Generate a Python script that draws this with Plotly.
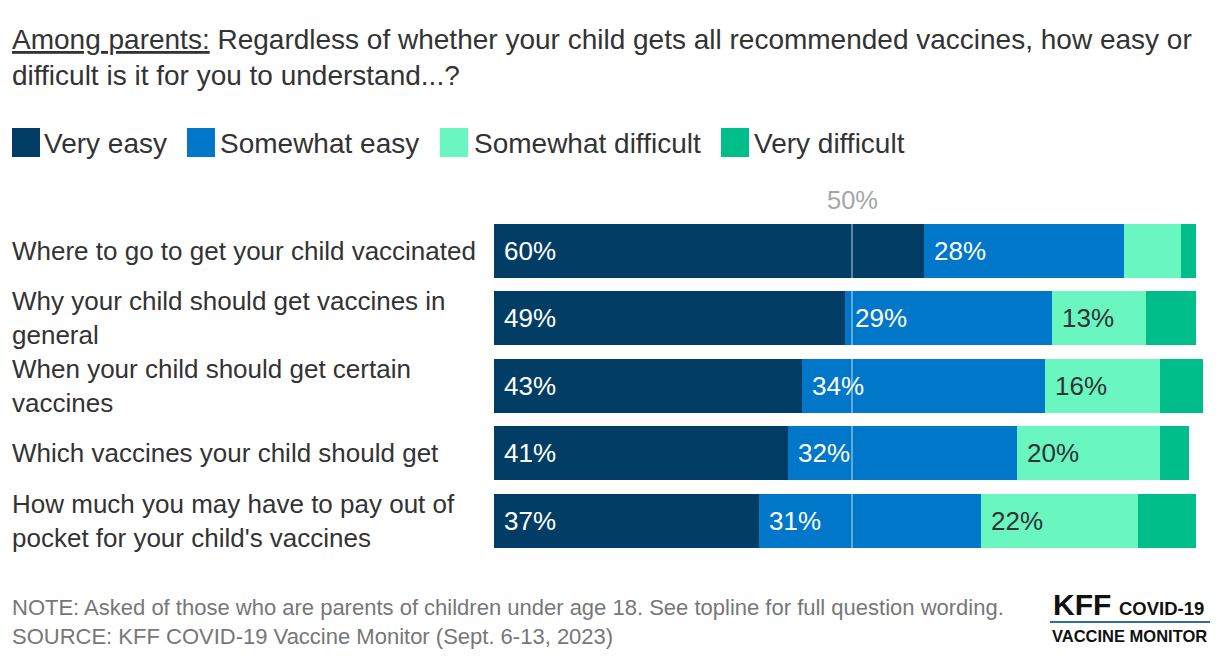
import plotly.graph_objects as go

categories = [
    "Where to go to get your child vaccinated",
    "Why your child should get vaccines in<br>general",
    "When your child should get certain<br>vaccines",
    "Which vaccines your child should get",
    "How much you may have to pay out of<br>pocket for your child's vaccines",
]
series_names = ["Very easy", "Somewhat easy", "Somewhat difficult", "Very difficult"]
very_easy = [60, 49, 43, 41, 37]
somewhat_easy = [28, 29, 34, 32, 31]
somewhat_difficult = [8, 13, 16, 20, 22]
very_difficult = [2, 7, 6, 4, 8]

series_values = [very_easy, somewhat_easy, somewhat_difficult, very_difficult]
colors = ["#023d65", "#0077c8", "#69f6c1", "#00be8a"]
label_colors = ["#ffffff", "#ffffff", "#333333", "#333333"]

# page offset (browser body margin)
OX, OY = 8, 8
W, H = 1212, 652
PL, PR, PT, PB = 494, 1210, 217, 555  # plot area in page pixels
ML, MR, MT, MB = PL - OX, (W + OX) - PR, PT - OY, (H + OY) - PB
PW = PR - PL
PH = PB - PT


def px_x(p):
    return (p - PL) / PW


def px_y(p):
    return (PB - p) / PH


FONT = "Arial, Liberation Sans, Helvetica, sans-serif"

fig = go.Figure()
for name, vals, col in zip(series_names, series_values, colors):
    fig.add_trace(go.Bar(
        y=categories, x=vals, name=name, orientation="h",
        marker=dict(color=col, line=dict(width=0)),
        hoverinfo="x+name", showlegend=False,
    ))

annotations = []
# value labels
for i, cat in enumerate(categories):
    base = 0
    for s, vals in enumerate(series_values):
        v = vals[i]
        if v >= 10:
            annotations.append(dict(
                x=base, y=cat, xref="x", yref="y", text=f"{v}%",
                showarrow=False, xanchor="left", yanchor="middle", xshift=8,
                font=dict(size=26, color=label_colors[s], family=FONT),
            ))
        base += v

# category labels (left aligned)
for cat in categories:
    annotations.append(dict(
        x=px_x(10), y=cat, xref="paper", yref="y", text=cat,
        showarrow=False, xanchor="left", yanchor="middle", align="left",
        font=dict(size=26, color="#333333", family=FONT),
    ))

# 50% label
annotations.append(dict(
    x=50, y=px_y(200), xref="x", yref="paper", text="50%", showarrow=False,
    xanchor="center", yanchor="middle",
    font=dict(size=25.5, color="#a6a6a6", family=FONT),
))

# title
annotations.append(dict(
    x=px_x(10), y=px_y(22), xref="paper", yref="paper", showarrow=False,
    xanchor="left", yanchor="top", align="left",
    text=("<span style='text-decoration:underline'>Among parents:</span> Regardless of whether your child gets all recommended vaccines, how easy or"
          "<br>difficult is it for you to understand...?"),
    font=dict(size=28, color="#333333", family=FONT),
))

# custom legend
legend_items = [(12, 45), (187, 221), (440, 475), (721, 755)]
shapes = []
for (sx, tx), name, col in zip(legend_items, series_names, colors):
    shapes.append(dict(type="rect", xref="paper", yref="paper",
                       x0=px_x(sx), x1=px_x(sx + 28), y0=px_y(157), y1=px_y(128),
                       fillcolor=col, line=dict(width=0)))
    annotations.append(dict(
        x=px_x(tx - 3), y=px_y(143), xref="paper", yref="paper", text=name,
        showarrow=False, xanchor="left", yanchor="middle",
        font=dict(size=28, color="#333333", family=FONT),
    ))

# 50% reference line
shapes.append(dict(type="line", xref="x", yref="paper", x0=50, x1=50, y0=0, y1=1,
                   line=dict(color="rgba(255,255,255,0.5)", width=1.5), layer="above"))

# footer
annotations.append(dict(
    x=px_x(10), y=px_y(593), xref="paper", yref="paper", showarrow=False,
    xanchor="left", yanchor="top", align="left",
    text=("NOTE: Asked of those who are parents of children under age 18. See topline for full question wording."
          "<br>SOURCE: KFF COVID-19 Vaccine Monitor (Sept. 6-13, 2023)"),
    font=dict(size=22, color="#777777", family=FONT),
))

# logo
LOGO_FONT = "Arial, Liberation Sans, sans-serif"
annotations.append(dict(
    x=px_x(1051), y=px_y(604), xref="paper", yref="paper", showarrow=False,
    xanchor="left", yanchor="middle", text="<b>KFF</b>",
    font=dict(size=30, color="#111111", family=LOGO_FONT),
))
annotations.append(dict(
    x=px_x(1206), y=px_y(608), xref="paper", yref="paper", showarrow=False,
    xanchor="right", yanchor="middle", text="<b>COVID-19</b>",
    font=dict(size=18.5, color="#111111", family=LOGO_FONT),
))
annotations.append(dict(
    x=px_x(1129), y=px_y(636), xref="paper", yref="paper", showarrow=False,
    xanchor="center", yanchor="middle", text="<b>VACCINE MONITOR</b>",
    font=dict(size=16.5, color="#111111", family=LOGO_FONT),
))
shapes.append(dict(type="line", xref="paper", yref="paper",
                   x0=px_x(1050), x1=px_x(1210), y0=px_y(622), y1=px_y(622),
                   line=dict(color="#2f6ea5", width=2)))

fig.update_layout(
    width=W, height=H, barmode="stack", bargap=0.2,
    margin=dict(l=ML, r=MR, t=MT, b=MB, pad=0),
    paper_bgcolor="white", plot_bgcolor="white",
    xaxis=dict(range=[0, 100], visible=False, fixedrange=True),
    yaxis=dict(autorange="reversed", showticklabels=False, showgrid=False,
               zeroline=False, showline=False, ticks="", fixedrange=True),
    annotations=annotations, shapes=shapes, showlegend=False,
    font=dict(family=FONT),
)

fig.write_html("out.html")
